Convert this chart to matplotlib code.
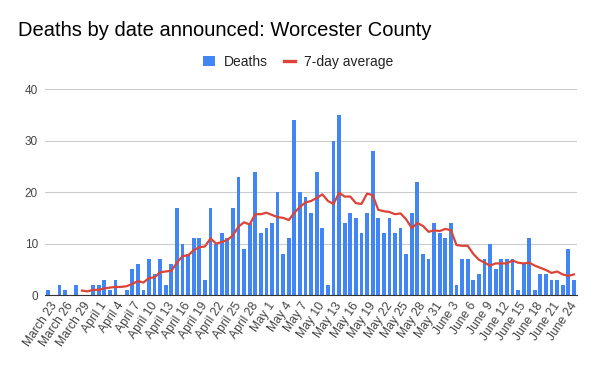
import matplotlib
matplotlib.use('Agg')
import matplotlib.pyplot as plt
from matplotlib.patches import Patch
from matplotlib.lines import Line2D
import matplotlib.transforms as mtransforms

plt.rcParams['font.family'] = ['Liberation Sans', 'DejaVu Sans']

# Daily deaths, March 23 .. June 25
deaths = [1, 0, 2, 1, 0, 2, 0, 0, 2, 2,
          3, 1, 3, 0, 1, 5, 6, 1, 7, 4,
          7, 2, 6, 17, 10, 8, 11, 11, 3, 17,
          10, 12, 11, 17, 23, 9, 14, 24, 12, 13,
          14, 20, 8, 11, 34, 20, 19, 16, 24, 13,
          2, 30, 35, 14, 16, 15, 12, 16, 28, 15,
          12, 15, 12, 13, 8, 16, 22, 8, 7, 14,
          12, 11, 14, 2, 7, 7, 3, 4, 7, 10,
          5, 7, 7, 7, 1, 6, 11, 1, 4, 4,
          3, 3, 2, 9, 3]

# 7-day average, starting at March 29 (7th day)
avg_start = 6
avg7 = [0.86, 0.71, 1.0, 1.0, 1.29, 1.43, 1.57, 1.57, 1.71, 2.14,
        2.71, 2.43, 3.29, 3.43, 4.43, 4.57, 4.71, 6.29, 7.57, 7.71,
        8.71, 9.29, 9.43, 11.0, 10.0, 10.29, 10.71, 11.57, 13.29, 14.14,
        13.71, 15.71, 15.71, 16.0, 15.57, 15.14, 15.0, 14.57, 16.0, 17.14,
        18.0, 18.29, 18.86, 19.57, 18.29, 17.71, 19.86, 19.14, 19.14, 17.86,
        17.71, 19.71, 19.43, 16.57, 16.29, 16.14, 15.71, 15.86, 14.71, 13.0,
        14.0, 13.43, 12.29, 12.57, 12.43, 12.86, 12.57, 9.71, 9.57, 9.57,
        8.0, 6.86, 6.29, 5.71, 6.14, 6.14, 6.14, 6.71, 6.29, 6.14,
        6.29, 5.71, 5.29, 4.86, 4.29, 4.57, 4.0, 3.71, 4.0]

tick_labels = ["March 23", "March 26", "March 29", "April 1", "April 4",
               "April 7", "April 10", "April 13", "April 16", "April 19",
               "April 22", "April 25", "April 28", "May 1", "May 4",
               "May 7", "May 10", "May 13", "May 16", "May 19", "May 22",
               "May 25", "May 28", "May 31", "June 3", "June 6", "June 9",
               "June 12", "June 15", "June 18", "June 21", "June 24"]
tick_step = 3

W, H = 596, 368
fig = plt.figure(figsize=(W / 100, H / 100), dpi=100)
ax = fig.add_axes([45 / W, (H - 295) / H, 532 / W, (295 - 89.3) / H])

x = list(range(len(deaths)))
ax.bar(x, deaths, width=0.68, color='#4285F4', zorder=2)
ax.plot(list(range(avg_start, avg_start + len(avg7))), avg7,
        color='#DB4437', lw=1.6, zorder=3, solid_joinstyle='round')

ax.set_xlim(-0.6, len(deaths) - 0.45)
ax.set_ylim(0, 40)
ax.set_yticks([0, 10, 20, 30, 40])
ax.yaxis.grid(True, color='#cccccc', lw=0.8, zorder=0)
ax.set_axisbelow(True)
for s in ['top', 'right', 'left']:
    ax.spines[s].set_visible(False)
ax.spines['bottom'].set_color('#333333')
ax.spines['bottom'].set_linewidth(0.8)
ax.spines['bottom'].set_zorder(4)
ax.tick_params(axis='y', length=0, pad=5, labelsize=8.5, labelcolor='#444444')
ax.tick_params(axis='x', length=0, pad=3, labelsize=8.7, labelcolor='#444444')
ax.set_xticks(list(range(0, len(deaths), tick_step))[:len(tick_labels)])
ax.set_xticklabels(tick_labels, rotation=56, ha='right', va='center',
                   rotation_mode='anchor')
offset = mtransforms.ScaledTranslation(6 / 100, -4 / 100, fig.dpi_scale_trans)
for lab in ax.get_xticklabels():
    lab.set_transform(lab.get_transform() + offset)

fig.text(18 / W, 1 - 36 / H, "Deaths by date announced: Worcester County",
         fontsize=14.5, color='#000000', ha='left', va='baseline')

handles = [Patch(facecolor='#4285F4', edgecolor='none'),
           Line2D([0], [0], color='#DB4437', lw=2.4)]
fig.legend(handles, ['Deaths', '7-day average'], loc='center',
           bbox_to_anchor=(298.5 / W, 1 - 62 / H), ncol=2, frameon=False,
           fontsize=10, handlelength=0.8, handleheight=0.8,
           handletextpad=0.65, columnspacing=1.2, labelcolor='#222222')

fig.savefig('out.png', dpi=100)
